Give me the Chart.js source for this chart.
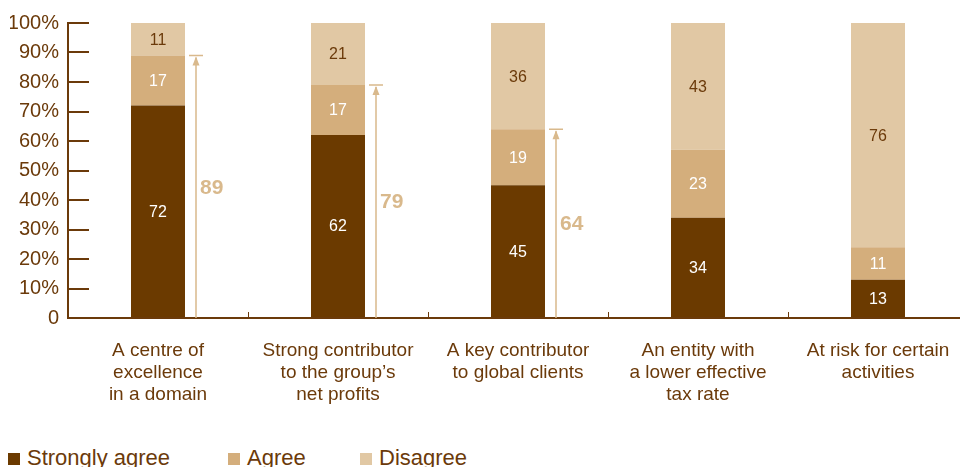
<!DOCTYPE html>
<html>
<head>
<meta charset="utf-8">
<script src="https://cdn.jsdelivr.net/npm/chart.js@4"></script>
<style>
  html, body { margin: 0; padding: 0; background: #fff; overflow: hidden; }
  #wrap { position: relative; width: 972px; height: 420px; }
  #legend { position: absolute; left: 0; top: 443px; height: 30px; width: 960px; }
  .item { position: absolute; top: 0; font-family: "Liberation Sans Narrow", "Arial Narrow", "Liberation Sans", sans-serif; font-size: 22px; color: #6b3a0a; white-space: nowrap; line-height: 30px; }
  .item span.box { position: absolute; top: 10px; width: 12px; height: 12px; }
  .item span.txt { position: absolute; top: 0; }
</style>
</head>
<body>
<div id="wrap"><canvas id="chart"></canvas></div>
<div id="legend"></div>
<script>
const categories = [
    ['A centre of', 'excellence', 'in a domain'],
    ['Strong contributor', 'to the group\u2019s', 'net profits'],
    ['A key contributor', 'to global clients'],
    ['An entity with', 'a lower effective', 'tax rate'],
    ['At risk for certain', 'activities']
];
const seriesNames = ['Strongly agree', 'Agree', 'Disagree'];
const stronglyAgree = [72, 62, 45, 34, 13];
const agree = [17, 17, 19, 23, 11];
const disagree = [11, 21, 36, 43, 76];
const arrowCategories = [0, 1, 2];   // bars that get the "agree in total" arrow
const yTicks = [0, 10, 20, 30, 40, 50, 60, 70, 80, 90, 100];

const colors = ['#6b3a00', '#d4ae7c', '#e1c8a4'];
const labelColors = ['#ffffff', '#ffffff', '#6b3a0a'];
const textColor = '#6b3a0a';
const arrowColor = '#d9b98c';
const fontFamily = '"Liberation Sans Narrow", "Arial Narrow", "Liberation Sans", sans-serif';

// Values written in the middle of every segment
const segmentLabels = {
    id: 'segmentLabels',
    afterDatasetsDraw(chart) {
        const ctx = chart.ctx;
        ctx.save();
        ctx.font = '16px ' + fontFamily;
        ctx.textAlign = 'center';
        ctx.textBaseline = 'middle';
        chart.data.datasets.forEach((ds, i) => {
            chart.getDatasetMeta(i).data.forEach((bar, j) => {
                const mid = (bar.y + bar.base) / 2;
                ctx.fillStyle = labelColors[i];
                ctx.fillText(ds.data[j], bar.x, mid + 1);
            });
        });
        ctx.restore();
    }
};

// Arrows showing strongly agree + agree
const totalArrows = {
    id: 'totalArrows',
    afterDatasetsDraw(chart) {
        const ctx = chart.ctx;
        const y = chart.scales.y;
        const meta = chart.getDatasetMeta(0);
        ctx.save();
        ctx.strokeStyle = arrowColor;
        ctx.fillStyle = arrowColor;
        ctx.lineWidth = 1.5;
        arrowCategories.forEach(j => {
            const total = stronglyAgree[j] + agree[j];
            const bar = meta.data[j];
            const x = bar.x + bar.width / 2 + 11;
            const top = y.getPixelForValue(total);
            const bottom = y.getPixelForValue(0);
            ctx.beginPath();
            ctx.moveTo(x, bottom);
            ctx.lineTo(x, top + 2);
            ctx.moveTo(x - 7, top);
            ctx.lineTo(x + 7, top);
            ctx.stroke();
            ctx.beginPath();
            ctx.moveTo(x, top + 1);
            ctx.lineTo(x - 3.5, top + 10);
            ctx.lineTo(x + 3.5, top + 10);
            ctx.closePath();
            ctx.fill();
            ctx.font = 'bold 21px ' + fontFamily;
            ctx.textAlign = 'left';
            ctx.textBaseline = 'middle';
            ctx.fillText(total, x + 4, (top + bottom) / 2 + 1);
        });
        ctx.restore();
    }
};

const ctx = document.getElementById('chart').getContext('2d');
const chart = new Chart(ctx, {
    type: 'bar',
    data: {
        labels: categories,
        datasets: [stronglyAgree, agree, disagree].map((d, i) => ({
            label: seriesNames[i],
            data: d,
            backgroundColor: colors[i],
            borderWidth: 0,
            categoryPercentage: 1,
            barPercentage: 0.3
        }))
    },
    options: {
        responsive: true,
        maintainAspectRatio: false,
        animation: false,
        layout: { padding: { top: 23, left: 10, right: 4, bottom: 0 } },
        scales: {
            x: {
                stacked: true,
                grid: {
                    drawOnChartArea: false,
                    tickLength: -6,
                    color: textColor,
                    lineWidth: 1
                },
                border: { color: textColor, width: 2 },
                ticks: {
                    color: textColor,
                    padding: 28,
                    font: { family: fontFamily, size: 19, lineHeight: 1.16 }
                },
                afterFit(scale) {
                    scale.height = 102;
                    scale.paddingLeft = 0;
                    scale.paddingRight = 0;
                }
            },
            y: {
                stacked: true,
                min: 0,
                max: 100,
                afterBuildTicks(scale) { scale.ticks = yTicks.map(v => ({ value: v })); },
                grid: {
                    drawOnChartArea: false,
                    tickLength: -21,
                    color: textColor,
                    lineWidth: 2
                },
                border: { color: textColor, width: 2 },
                ticks: {
                    color: textColor,
                    padding: 30,
                    font: { family: fontFamily, size: 20 },
                    callback: v => v === 0 ? '0' : v + '%'
                },
                afterFit(scale) {
                    scale.width = 58;
                    scale.paddingTop = 0;
                    scale.paddingBottom = 0;
                }
            }
        },
        plugins: {
            legend: { display: false },
            tooltip: { enabled: false }
        }
    },
    plugins: [segmentLabels, totalArrows]
});

// Legend row under the chart
const legendPos = [8, 228, 360];
const legend = document.getElementById('legend');
seriesNames.forEach((name, i) => {
    const item = document.createElement('div');
    item.className = 'item';
    item.style.left = legendPos[i] + 'px';
    item.innerHTML = '<span class="box" style="background:' + colors[i] + '"></span>' +
        '<span class="txt" style="left:19px">' + name + '</span>';
    legend.appendChild(item);
});
</script>
</body>
</html>
